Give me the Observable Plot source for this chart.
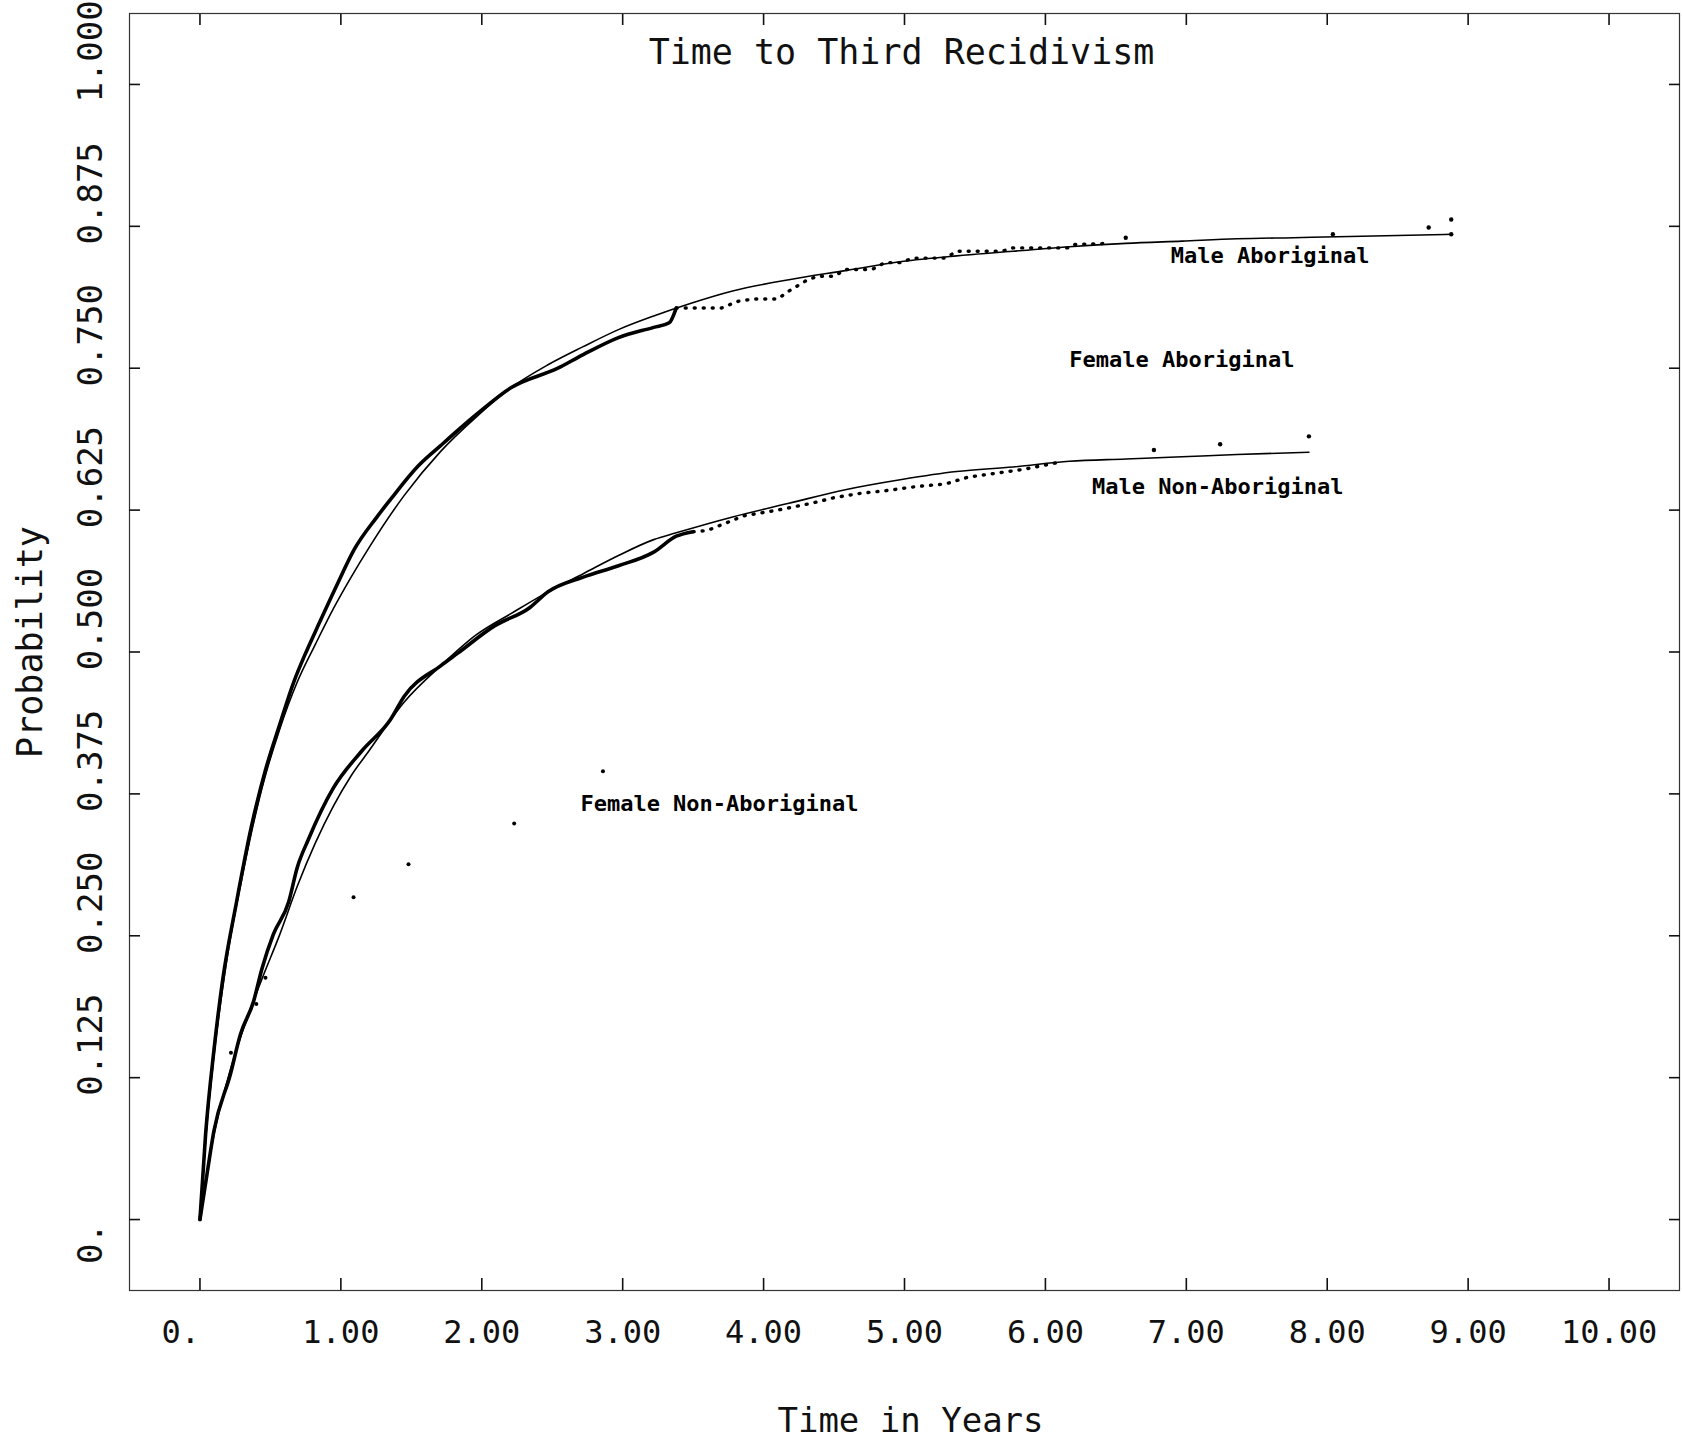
<!DOCTYPE html>
<html>
<head>
<meta charset="utf-8">
<script src="https://cdn.jsdelivr.net/npm/d3@7"></script>
<script src="https://cdn.jsdelivr.net/npm/@observablehq/plot@0.6"></script>
<style>
  html, body { margin: 0; padding: 0; background: #fff; }
  #chart svg { display: block; }
</style>
</head>
<body>
<div id="chart"></div>
<script>
// ---------- tick values and labels ----------
const xTicks = [0, 1, 2, 3, 4, 5, 6, 7, 8, 9, 10];
const xTickLabels = ["0.", "1.00", "2.00", "3.00", "4.00", "5.00", "6.00", "7.00", "8.00", "9.00", "10.00"];
const yTicks = [0, 0.125, 0.25, 0.375, 0.5, 0.625, 0.75, 0.875, 1.0];
const yTickLabels = ["0.", "0.125", "0.250", "0.375", "0.500", "0.625", "0.750", "0.875", "1.000"];

const chartTitle = "Time to Third Recidivism";
const xTitle = "Time in Years";
const yTitle = "Probability";

// ---------- Male Aboriginal: fitted curve ----------
const maleAboFitT = [0, 0.04, 0.1, 0.186, 0.313, 0.44, 0.566, 0.692, 0.82, 0.946, 1.073, 1.2, 1.45, 1.71, 1.96, 2.21, 2.47, 2.72, 2.97, 3.22, 3.48, 3.78, 4.18, 4.58, 4.98, 5.37, 5.77, 6.17, 6.57, 6.97, 7.36, 7.76, 8.16, 8.88];
const maleAboFitP = [0, 0.07, 0.145, 0.225, 0.31, 0.38, 0.432, 0.474, 0.507, 0.538, 0.566, 0.592, 0.638, 0.677, 0.707, 0.733, 0.753, 0.769, 0.784, 0.796, 0.807, 0.818, 0.828, 0.836, 0.844, 0.849, 0.853, 0.857, 0.86, 0.862, 0.864, 0.865, 0.866, 0.868];

// ---------- Male Aboriginal: observed (solid part, dotted tail, isolated points) ----------
const maleAboObsT = [0, 0.04, 0.1, 0.16, 0.26, 0.363, 0.465, 0.566, 0.667, 0.743, 0.845, 0.972, 1.098, 1.25, 1.35, 1.55, 1.71, 1.96, 2.21, 2.54, 2.72, 2.97, 3.22, 3.33, 3.38];
const maleAboObsP = [0, 0.075, 0.15, 0.21, 0.28, 0.345, 0.396, 0.436, 0.474, 0.497, 0.525, 0.559, 0.591, 0.618, 0.634, 0.664, 0.682, 0.709, 0.733, 0.75, 0.762, 0.777, 0.786, 0.79, 0.803];
const maleAboTailT = [3.38, 3.5, 3.7, 3.82, 3.93, 4.1, 4.18, 4.3, 4.38, 4.5, 4.58, 4.77, 4.86, 4.97, 5.06, 5.29, 5.37, 5.69, 5.77, 6.17, 6.21, 6.45];
const maleAboTailP = [0.803, 0.803, 0.803, 0.809, 0.811, 0.811, 0.818, 0.827, 0.831, 0.831, 0.837, 0.837, 0.843, 0.843, 0.847, 0.847, 0.853, 0.853, 0.856, 0.856, 0.859, 0.86];
const maleAboPtsT = [6.57, 8.04, 8.72, 8.88, 8.88];
const maleAboPtsP = [0.865, 0.868, 0.874, 0.881, 0.868];

// ---------- Male Non-Aboriginal: fitted curve ----------
const maleNonFitT = [0, 0.05, 0.1, 0.2, 0.3, 0.44, 0.566, 0.692, 0.82, 0.946, 1.073, 1.2, 1.45, 1.71, 1.96, 2.21, 2.47, 2.72, 2.97, 3.22, 3.38, 3.78, 4.18, 4.58, 4.98, 5.37, 5.77, 6.17, 6.57, 6.97, 7.36, 7.87];
const maleNonFitP = [0, 0.04, 0.075, 0.125, 0.165, 0.212, 0.251, 0.294, 0.332, 0.364, 0.391, 0.413, 0.456, 0.488, 0.515, 0.534, 0.553, 0.569, 0.585, 0.599, 0.605, 0.619, 0.631, 0.643, 0.652, 0.659, 0.663, 0.668, 0.670, 0.672, 0.674, 0.676];

// ---------- Male Non-Aboriginal: observed ----------
const maleNonObsT = [0, 0.05, 0.099, 0.216, 0.287, 0.38, 0.44, 0.52, 0.63, 0.69, 0.77, 0.946, 1.15, 1.35, 1.45, 1.71, 1.83, 2.09, 2.34, 2.47, 2.72, 2.97, 3.22, 3.38, 3.5];
const maleNonObsP = [0, 0.04, 0.078, 0.128, 0.163, 0.192, 0.221, 0.251, 0.28, 0.31, 0.335, 0.38, 0.413, 0.44, 0.461, 0.488, 0.499, 0.523, 0.539, 0.553, 0.566, 0.576, 0.588, 0.602, 0.606];
const maleNonTailT = [3.5, 3.6, 3.86, 4.1, 4.34, 4.5, 4.7, 4.86, 5.1, 5.29, 5.45, 5.85, 6.09];
const maleNonTailP = [0.606, 0.607, 0.62, 0.625, 0.631, 0.636, 0.64, 0.642, 0.646, 0.648, 0.654, 0.661, 0.667];
const maleNonPtsT = [6.77, 7.24, 7.87];
const maleNonPtsP = [0.678, 0.683, 0.690];

// ---------- Female Non-Aboriginal: sparse observed points ----------
const femNonPtsT = [0.22, 0.40, 0.465, 1.09, 1.48, 2.23, 2.86];
const femNonPtsP = [0.147, 0.19, 0.213, 0.284, 0.313, 0.349, 0.395];

// ---------- curve labels (anchored in data coordinates) ----------
const curveLabels = ["Male Aboriginal", "Female Aboriginal", "Male Non-Aboriginal", "Female Non-Aboriginal"];
const curveLabelT = [6.89, 6.17, 6.33, 2.70];
const curveLabelP = [0.849, 0.7575, 0.6457, 0.3658];

// ---------- helpers ----------
const rows = (T, P) => T.map((t, i) => ({t, p: P[i]}));
const mono = "'DejaVu Sans Mono', 'Liberation Mono', monospace";
const NB = "\u00a0";

const xLabelRows = xTicks.map((v, i) => ({v, label: xTickLabels[i].padEnd(4, NB)}));
const yLabelRows = yTicks.map((v, i) => ({v, label: yTickLabels[i]}));
const labelRows = curveLabels.map((s, i) => ({s, t: curveLabelT[i], p: curveLabelP[i]}));

const ink = "#111";

const chart = Plot.plot({
  width: 1682,
  height: 1443,
  marginLeft: 129,
  marginRight: 3,
  marginTop: 13,
  marginBottom: 153,
  x: {domain: [-0.5, 10.5]},
  y: {domain: [-0.0625, 1.0625]},
  style: {background: "#fff", color: ink, fontFamily: mono},
  marks: [
    Plot.frame({stroke: "#333", strokeWidth: 1.2}),
    // inward ticks on all four sides
    Plot.axisX(xTicks, {anchor: "bottom", tickSize: -12, strokeWidth: 1.6, tickFormat: () => "", label: null}),
    Plot.axisX(xTicks, {anchor: "top", tickSize: -11, strokeWidth: 1.6, tickFormat: () => "", label: null}),
    Plot.axisY(yTicks, {anchor: "left", tickSize: -11, strokeWidth: 1.6, tickFormat: () => "", label: null}),
    Plot.axisY(yTicks, {anchor: "right", tickSize: -11, strokeWidth: 1.6, tickFormat: () => "", label: null}),

    // x tick labels
    Plot.text(xLabelRows, {x: "v", text: "label", frameAnchor: "bottom", lineAnchor: "top", dy: 30,
      fontSize: 32, fontFamily: mono, fill: ink}),
    // y tick labels (rotated)
    Plot.text(yLabelRows.filter(d => d.label.length >= 5), {y: "v", text: "label", frameAnchor: "left", rotate: -90,
      textAnchor: "middle", lineAnchor: "middle", dx: -38, dy: -33, fontSize: 34, fontFamily: mono, fill: ink,
      ariaLabel: "y-tick-labels"}),
    Plot.text(yLabelRows.filter(d => d.label.length < 5), {y: "v", text: "label", frameAnchor: "left", rotate: -90,
      textAnchor: "middle", lineAnchor: "middle", dx: -38, dy: 24, fontSize: 34, fontFamily: mono, fill: ink,
      ariaLabel: "y-tick-labels"}),

    // titles
    Plot.text([chartTitle], {frameAnchor: "top", textAnchor: "middle", lineAnchor: "middle", dx: -3, dy: 39, fontSize: 35, fontFamily: mono, fill: ink}),
    Plot.text([xTitle], {frameAnchor: "bottom", textAnchor: "middle", lineAnchor: "middle", dx: 6, dy: 131, fontSize: 34, fontFamily: mono, fill: ink}),
    Plot.text([yTitle], {frameAnchor: "left", rotate: -90, textAnchor: "middle", lineAnchor: "middle", dx: -99, dy: -10, fontSize: 35, fontFamily: mono, fill: ink}),

    // fitted curves (thin)
    Plot.line(rows(maleAboFitT, maleAboFitP), {x: "t", y: "p", stroke: "#000", strokeWidth: 1.6, curve: "monotone-x"}),
    Plot.line(rows(maleNonFitT, maleNonFitP), {x: "t", y: "p", stroke: "#000", strokeWidth: 1.6, curve: "monotone-x"}),

    // observed curves (thick)
    Plot.line(rows(maleAboObsT, maleAboObsP), {x: "t", y: "p", stroke: "#000", strokeWidth: 3.6, curve: "monotone-x", strokeLinejoin: "round", strokeLinecap: "round"}),
    Plot.line(rows(maleNonObsT, maleNonObsP), {x: "t", y: "p", stroke: "#000", strokeWidth: 3.6, curve: "monotone-x", strokeLinejoin: "round", strokeLinecap: "round"}),

    // observed tails (dotted)
    Plot.line(rows(maleAboTailT, maleAboTailP), {x: "t", y: "p", stroke: "#000", strokeWidth: 3.4, strokeDasharray: "1,8", strokeLinecap: "round"}),
    Plot.line(rows(maleNonTailT, maleNonTailP), {x: "t", y: "p", stroke: "#000", strokeWidth: 3.4, strokeDasharray: "1,8", strokeLinecap: "round"}),

    // isolated observed points
    Plot.dot(rows(maleAboPtsT, maleAboPtsP), {x: "t", y: "p", r: 2.2, fill: "#000", stroke: null}),
    Plot.dot(rows(maleNonPtsT, maleNonPtsP), {x: "t", y: "p", r: 2.2, fill: "#000", stroke: null}),
    Plot.dot(rows(femNonPtsT, femNonPtsP), {x: "t", y: "p", r: 2.0, fill: "#000", stroke: null}),

    // curve labels
    Plot.text(labelRows, {x: "t", y: "p", text: "s", textAnchor: "start", lineAnchor: "middle",
      fontSize: 22, fontWeight: "bold", fontFamily: mono, fill: "#000"})
  ]
});

// compress the rotated y tick labels along their reading direction (narrow plotter lettering)
chart.querySelectorAll('g[aria-label="y-tick-labels"] text').forEach(el => {
  const tr = el.getAttribute("transform") || "";
  el.setAttribute("transform", tr + " scale(0.75,1)");
});

document.getElementById("chart").appendChild(chart);
</script>
</body>
</html>
